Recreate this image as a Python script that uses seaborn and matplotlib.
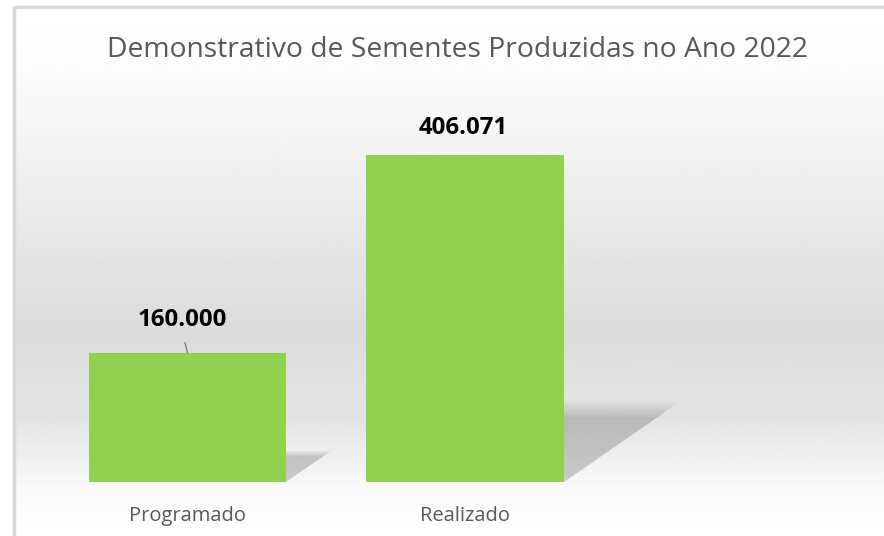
import numpy as np
import pandas as pd
import seaborn as sns
import matplotlib.pyplot as plt
from matplotlib.patches import Polygon
from matplotlib.lines import Line2D

# dados do gráfico
categorias = ['Programado', 'Realizado']
valores = [160000, 406071]
rotulos = ['160.000', '406.071']
titulo = 'Demonstrativo de Sementes Produzidas no Ano 2022'

sns.set_theme(style='white')
plt.rcParams['font.family'] = ['Open Sans', 'DejaVu Sans']

VERDE = '#92D050'
CINZA_TXT = '#595959'

fig = plt.figure(figsize=(8.84, 5.36), dpi=100)

# fundo com gradiente (branco -> cinza -> branco)
bg = fig.add_axes([14 / 884, 0, 1 - 14 / 884, 529 / 536], zorder=0)
ys = np.linspace(7, 536, 400)
stops_y = [7, 70, 200, 330, 420, 490, 536]
stops_v = [255, 252, 236, 219, 228, 250, 255]
vals = np.interp(ys, stops_y, stops_v) / 255.0
img = np.repeat(vals[:, None], 2, axis=1)
bg.imshow(img, cmap='gray', vmin=0, vmax=1, aspect='auto', extent=[0, 1, 1, 0])
bg.set_axis_off()
# borda (só topo e esquerda visíveis)
fig.add_artist(Line2D([14 / 884, 1], [529 / 536, 529 / 536], color='#d9d9d9', lw=2.5))
fig.add_artist(Line2D([14 / 884, 14 / 884], [0, 529 / 536], color='#d9d9d9', lw=2.5))

ax = fig.add_axes([48.75 / 884, 54 / 536, 832.5 / 884, 382 / 536], zorder=1)
ax.patch.set_alpha(0)

df = pd.DataFrame({'categoria': categorias, 'valor': valores})
largura = 0.71
sns.barplot(data=df, x='categoria', y='valor', color=VERDE, saturation=1,
            width=largura, linewidth=0, edgecolor='none', ax=ax, zorder=3)

ax.set_xlim(-0.5, 2.5)
ymax = 474000
ax.set_ylim(0, ymax)

# sombras em perspectiva (camadas com alpha para simular desfoque)
px_por_y = 382 / ymax
px_por_x = 832.5 / 3
for i, v in enumerate(valores):
    h = 0.22 * v
    w_px = h * px_por_y * 1.45
    w = w_px / px_por_x
    x0 = i + largura / 2
    for k in range(8):
        s = 0.9 + 0.03 * (7 - k)
        poly = Polygon([(x0, 0), (x0, h * s), (x0 + w * s, h * s)],
                       closed=True, facecolor='black', edgecolor='none',
                       alpha=0.025, zorder=2)
        ax.add_patch(poly)

# rótulos de dados
ax.annotate(rotulos[0], xy=(0, valores[0]), xytext=(-3.6, 23.5),
            textcoords='offset points', ha='center', va='center',
            fontsize=17.3, fontweight='bold', color='black', zorder=5,
            arrowprops=dict(arrowstyle='-', color='#7f7f7f', lw=1,
                            shrinkA=5, shrinkB=0, relpos=(0.5, 0)))
ax.annotate(rotulos[1], xy=(1, valores[1]), xytext=(-1, 19.5),
            textcoords='offset points', ha='center', va='center',
            fontsize=17.3, fontweight='bold', color='black', zorder=5)

ax.set_xlabel('')
ax.set_ylabel('')
ax.set_yticks([])
ax.tick_params(axis='x', length=0, labelsize=14.5, labelcolor=CINZA_TXT, pad=17)
for s in ax.spines.values():
    s.set_visible(False)

fig.text(457 / 884, 1 - 50 / 536, titulo, ha='center', va='center',
         fontsize=20.3, color=CINZA_TXT)

fig.savefig('out.png', dpi=100)
